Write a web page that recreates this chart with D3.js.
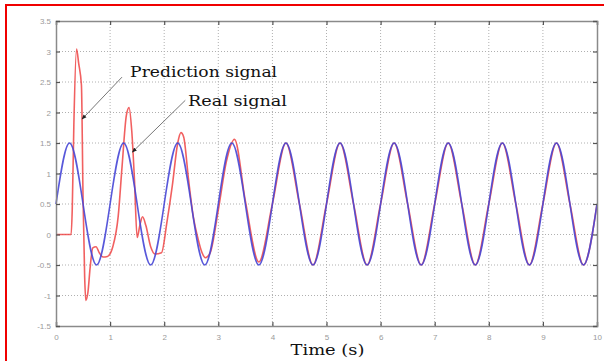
<!DOCTYPE html>
<html>
<head>
<meta charset="utf-8">
<script src="https://cdn.jsdelivr.net/npm/d3@7"></script>
<style>
  body { margin: 0; background: #fff; }
  svg { display: block; }
</style>
</head>
<body>
<div id="chart"></div>
<script>
// axis ticks
var xTicks = [0, 1, 2, 3, 4, 5, 6, 7, 8, 9, 10];
var yTicks = [-1.5, -1, -0.5, 0, 0.5, 1, 1.5, 2, 2.5, 3, 3.5];

// real signal, read every 0.25 s
var realStep = 0.25;
var realValues = [0.5, 1.5, 0.5, -0.5, 0.5, 1.5, 0.5, -0.5, 0.5, 1.5, 0.5, -0.5,
  0.5, 1.5, 0.5, -0.5, 0.5, 1.5, 0.5, -0.5, 0.5, 1.5, 0.5, -0.5,
  0.5, 1.5, 0.5, -0.5, 0.5, 1.5, 0.5, -0.5, 0.5, 1.5, 0.5, -0.5,
  0.5, 1.5, 0.5, -0.5, 0.5];

// prediction signal [time, value]
var predPoints = [
  [0, 0], [0.28, 0], [0.3, 0.4], [0.33, 1.8], [0.38, 3.04], [0.42, 2.8], [0.47, 2.45],
  [0.5, 0.6], [0.53, -0.7], [0.55, -1.08], [0.59, -0.95], [0.63, -0.55], [0.68, -0.22],
  [0.74, -0.2], [0.8, -0.3], [0.87, -0.37], [0.95, -0.36], [1.05, -0.2], [1.15, 0.3],
  [1.22, 1.1], [1.3, 1.95], [1.35, 2.08], [1.4, 1.7], [1.45, 0.9], [1.5, -0.05],
  [1.55, 0.15], [1.6, 0.29], [1.66, 0.15], [1.75, -0.2], [1.83, -0.32], [1.95, -0.3],
  [2.05, 0.2], [2.15, 0.8], [2.25, 1.5], [2.31, 1.67], [2.36, 1.6], [2.45, 0.9],
  [2.54, 0.28], [2.62, -0.05], [2.7, -0.3], [2.76, -0.38], [2.85, -0.3], [3.0, 0.4],
  [3.15, 1.2], [3.3, 1.56], [3.5, 0.55], [3.75, -0.45], [4.0, 0.5], [4.25, 1.5],
  [4.5, 0.5], [4.75, -0.5], [5.0, 0.5], [5.25, 1.5], [5.5, 0.5], [5.75, -0.5],
  [6.0, 0.5], [6.25, 1.5], [6.5, 0.5], [6.75, -0.5], [7.0, 0.5], [7.25, 1.5],
  [7.5, 0.5], [7.75, -0.5], [8.0, 0.5], [8.25, 1.5], [8.5, 0.5], [8.75, -0.5],
  [9.0, 0.5], [9.25, 1.5], [9.5, 0.5], [9.75, -0.5], [10.0, 0.5]
];

// annotations: label, where the text sits, where the arrow starts and points
var notes = [
  { text: "Prediction signal", at: [1.37, 2.58], from: [1.22, 2.58], to: [0.48, 1.89], len: 147 },
  { text: "Real signal", at: [2.44, 2.11], from: [2.39, 2.2], to: [1.41, 1.35], len: 99 }
];

var W = 604, H = 361;
var margin = { top: 21, right: 7, bottom: 35, left: 56 };
var width = W - margin.left - margin.right,
    height = H - margin.top - margin.bottom;

var svg = d3.select("#chart").append("svg")
  .attr("width", W)
  .attr("height", H);

// red frame round the figure
svg.append("path")
  .attr("d", "M6," + H + "V5H" + W)
  .attr("fill", "none")
  .attr("stroke", "#f00000")
  .attr("stroke-width", 2);

var defs = svg.append("defs");
defs.append("marker")
  .attr("id", "arr")
  .attr("viewBox", "0 0 10 10")
  .attr("refX", 9).attr("refY", 5)
  .attr("markerWidth", 5).attr("markerHeight", 5)
  .attr("orient", "auto")
  .append("path")
  .attr("d", "M0,1L10,5L0,9z")
  .attr("fill", "#222");

var g = svg.append("g")
  .attr("transform", "translate(" + margin.left + "," + margin.top + ")");

var x = d3.scaleLinear().domain([0, 10]).range([0, width]);
var y = d3.scaleLinear().domain([-1.5, 3.5]).range([height, 0]);

// grid
g.selectAll(".vg").data(xTicks.slice(1, -1)).enter().append("line")
  .attr("x1", d => x(d)).attr("x2", d => x(d))
  .attr("y1", 0).attr("y2", height)
  .attr("stroke", "#b0b0b0").attr("stroke-width", 1)
  .attr("stroke-dasharray", "1,2");
g.selectAll(".hg").data(yTicks.slice(1, -1)).enter().append("line")
  .attr("x1", 0).attr("x2", width)
  .attr("y1", d => y(d)).attr("y2", d => y(d))
  .attr("stroke", "#b0b0b0").attr("stroke-width", 1)
  .attr("stroke-dasharray", "1,2");

// signals
var predLine = d3.line()
  .x(d => x(d[0])).y(d => y(d[1]))
  .curve(d3.curveMonotoneX);
var realLine = d3.line()
  .x((d, i) => x(i * realStep)).y(d => y(d))
  .curve(d3.curveNatural);

g.append("path").datum(predPoints)
  .attr("d", predLine)
  .attr("fill", "none")
  .attr("stroke", "#ee4444")
  .attr("stroke-width", 1.6)
  .attr("stroke-opacity", 0.85);

g.append("path").datum(realValues)
  .attr("d", realLine)
  .attr("fill", "none")
  .attr("stroke", "#4646d6")
  .attr("stroke-width", 1.6)
  .attr("stroke-opacity", 0.9);

// axes box
var fmt = d => String(d);
var ax = g.append("g").attr("transform", "translate(0," + height + ")")
  .call(d3.axisBottom(x).tickValues(xTicks).tickFormat(fmt).tickSize(-4).tickPadding(8));
g.append("g").attr("transform", "translate(0,0)")
  .call(d3.axisTop(x).tickValues(xTicks).tickFormat("").tickSize(-4));
var ay = g.append("g")
  .call(d3.axisLeft(y).tickValues(yTicks).tickFormat(fmt).tickSize(-4).tickPadding(5));
g.append("g").attr("transform", "translate(" + width + ",0)")
  .call(d3.axisRight(y).tickValues(yTicks).tickFormat("").tickSize(-4));

g.selectAll(".domain").attr("stroke", "#8a8a8a").attr("stroke-width", 1.5);
g.selectAll(".tick line").attr("stroke", "#555").attr("stroke-width", 1.2);
g.selectAll(".tick text")
  .attr("fill", "#9a9a9a")
  .style("font-family", "Arial, 'Liberation Sans', sans-serif")
  .style("font-size", "8px");

// annotations
g.selectAll(".arrow").data(notes).enter().append("line")
  .attr("x1", d => x(d.from[0])).attr("y1", d => y(d.from[1]))
  .attr("x2", d => x(d.to[0])).attr("y2", d => y(d.to[1]))
  .attr("stroke", "#777").attr("stroke-width", 1)
  .attr("marker-end", "url(#arr)");

g.selectAll(".note").data(notes).enter().append("text")
  .attr("x", d => x(d.at[0])).attr("y", d => y(d.at[1]))
  .attr("textLength", d => d.len)
  .attr("lengthAdjust", "spacingAndGlyphs")
  .style("font-family", "'DejaVu Serif', serif")
  .style("font-size", "14px")
  .attr("fill", "#111")
  .text(d => d.text);

// axis title
svg.append("text")
  .attr("x", margin.left + width / 2 + 1)
  .attr("y", 355)
  .attr("text-anchor", "middle")
  .attr("textLength", 74)
  .attr("lengthAdjust", "spacingAndGlyphs")
  .style("font-family", "'DejaVu Serif', serif")
  .style("font-size", "14px")
  .attr("fill", "#111")
  .text("Time (s)");
</script>
</body>
</html>
